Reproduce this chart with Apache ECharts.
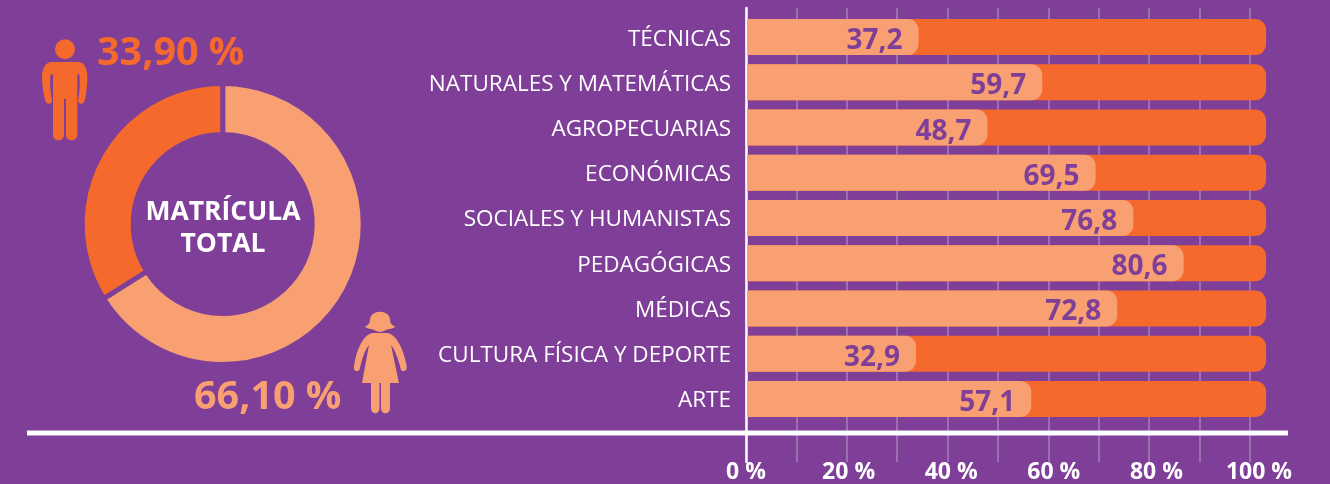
<!DOCTYPE html>
<html><head><meta charset="utf-8">
<style>html,body{margin:0;padding:0;background:#7f3f98}#c{width:1330px;height:484px}</style>
<script src="https://cdn.jsdelivr.net/npm/echarts@6/dist/echarts.min.js"></script>
</head><body><div id="c"></div>
<script>
const categories = ['TÉCNICAS','NATURALES Y MATEMÁTICAS','AGROPECUARIAS','ECONÓMICAS','SOCIALES Y HUMANISTAS','PEDAGÓGICAS','MÉDICAS','CULTURA FÍSICA Y DEPORTE','ARTE'];
const printedValues = [37.2,59.7,48.7,69.5,76.8,80.6,72.8,32.9,57.1];
const drawnLengths = [34.1,58.7,47.8,69.3,76.8,86.8,73.6,33.6,56.5];
const trackLengths = [103.2,103.2,103.2,103.2,103.2,103.2,103.2,103.2,103.2];
const tickValues = [0,20,40,60,80,100];
const shareNames = ['Mujeres','Hombres'];
const shareValues = [66.1,33.9];

const BG='#7f3f98', ORANGE='#f5692c', LIGHT='#f9a073';
const FONT='"Open Sans"';
const comma = (v,d)=>v.toFixed(d).replace('.',',');
const man='M52 62H78C84 62 87 68 87.3 76C87.5 86 86 96 84.5 101C83.8 104.5 78 104.5 78 101C79 95 80.5 85 79.5 76C79.3 73 77.5 73 77.3 76V135C77.3 142 66 142 66 135V99H64V135C64 142 53 142 53 135V76C52.7 73 51 73 50.5 76C49.5 85 51 95 52 101C52 104.5 46 104.5 45.5 101C44 96 42 86 42 76C42.3 68 46 62 52 62Z';
const woman='M372 333H388C396 335 403 347 406.7 366C407.5 372 401 373 400.5 368C398 358 395 350 391 345L399 383H390V408C390 415 381 415 381 408V383H379.5V408C379.5 415 371 415 371 408V383H362L369 345C365 350 362 358 360 368C359 373 353 372 354 366C357 347 364 335 372 333Z';
const hair='M364.7 327C369 325 370 322 370 320C370 309 390 309 390 320C390 322 391 325 395.7 327C388 331 372 331 364.7 327Z';
const icons=[[man,ORANGE],[hair,LIGHT],[woman,LIGHT]];

const chart = echarts.init(document.getElementById('c'),null,{renderer:'canvas'});
chart.setOption({
  backgroundColor:BG,
  animation:false,
  grid:[
    {left:746,width:504,top:8,height:454},
    {left:747,width:503,top:14.5,height:407},
    {left:746,width:513,top:8,height:454},
    {left:747,width:503,top:16.5,height:407}
  ],
  xAxis:[
    {gridIndex:0,type:'value',min:0,max:100,interval:10,axisLine:{show:false},axisTick:{show:false},axisLabel:{show:false},
      splitLine:{show:true,lineStyle:{color:'#a682b8',width:1.5}}},
    {gridIndex:1,type:'value',min:0,max:100,show:false},
    {gridIndex:2,type:'value',min:0,max:100,interval:20,axisLine:{show:false},axisTick:{show:false},splitLine:{show:false},
      axisLabel:{color:'#fff',fontFamily:FONT,fontWeight:'bold',fontSize:23,margin:1,
        formatter:v=>tickValues.includes(v)?v+' %':''}},
    {gridIndex:3,type:'value',min:0,max:100,show:false}
  ],
  yAxis:[
    {gridIndex:0,type:'value',min:0,max:1,show:true,axisLine:{show:true,lineStyle:{color:'#fff',width:2.5}},axisTick:{show:false},axisLabel:{show:false},splitLine:{show:false}},
    {gridIndex:1,type:'category',inverse:true,data:categories,axisLine:{show:false},axisTick:{show:false},axisLabel:{show:false}},
    {gridIndex:2,type:'value',min:0,max:1,show:false},
    {gridIndex:3,type:'category',inverse:true,data:categories,axisLine:{show:false},axisTick:{show:false},
      axisLabel:{color:'#fff',fontFamily:FONT,fontSize:22.5,margin:16}}
  ],
  series:[
    {type:'bar',xAxisIndex:1,yAxisIndex:1,data:trackLengths,barWidth:36,barGap:'-100%',clip:false,silent:true,
      itemStyle:{color:ORANGE,borderRadius:[0,11,11,0]}},
    {type:'bar',xAxisIndex:1,yAxisIndex:1,data:drawnLengths,barWidth:36,barGap:'-100%',clip:false,
      itemStyle:{color:LIGHT,borderRadius:[0,11,11,0]},
      label:{show:true,position:'insideRight',distance:16,offset:[0,4],color:BG,fontFamily:FONT,fontWeight:'bold',fontSize:28,
        formatter:p=>comma(printedValues[p.dataIndex],1)}},
    {type:'pie',center:[222.7,224],radius:[89.5,140.5],startAngle:90,clockwise:true,silent:true,
      data:shareNames.map((n,i)=>({name:n,value:shareValues[i]})),
      color:[LIGHT,ORANGE],label:{show:false},labelLine:{show:false},
      itemStyle:{borderColor:BG,borderWidth:5}},
    {type:'custom',coordinateSystem:'none',silent:true,data:[0,1,2],
      renderItem:(p)=>({type:'path',shape:{pathData:icons[p.dataIndex][0]},style:{fill:icons[p.dataIndex][1]}})}
  ],
  graphic:[
    {type:'rect',z:50,shape:{x:27,y:430.5,width:1261,height:5},style:{fill:'#fff'}},
    {type:'circle',shape:{cx:65,cy:49.3,r:10},style:{fill:ORANGE}},
    {type:'circle',shape:{cx:380,cy:322,r:10},style:{fill:LIGHT}},
    {type:'text',x:97,y:54,style:{text:comma(shareValues[1],2)+' %',fill:ORANGE,font:'bold 39.5px "Open Sans"',textAlign:'left',textVerticalAlign:'middle'}},
    {type:'text',x:194,y:398,style:{text:comma(shareValues[0],2)+' %',fill:LIGHT,font:'bold 39.5px "Open Sans"',textAlign:'left',textVerticalAlign:'middle'}},
    {type:'text',x:223,y:212,style:{text:'MATRÍCULA',fill:'#fff',font:'bold 26.5px "Open Sans"',textAlign:'center',textVerticalAlign:'middle'}},
    {type:'text',x:223,y:244,style:{text:'TOTAL',fill:'#fff',font:'bold 26.5px "Open Sans"',textAlign:'center',textVerticalAlign:'middle'}}
  ]
});
</script></body></html>
